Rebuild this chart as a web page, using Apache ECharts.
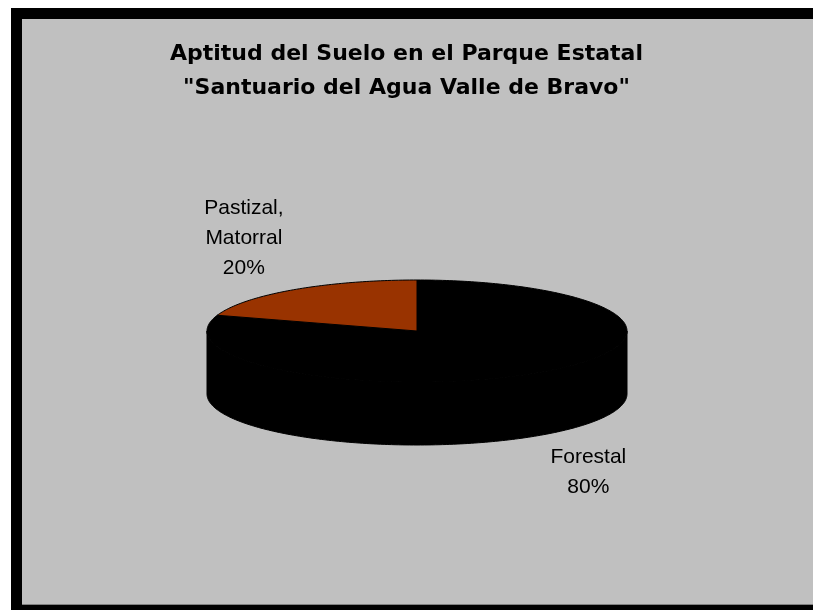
<!DOCTYPE html>
<html>
<head>
<meta charset="utf-8">
<script src="https://cdn.jsdelivr.net/npm/echarts@6/dist/echarts.min.js"></script>
<style>html,body{margin:0;padding:0;background:#fff}#c{width:813px;height:610px}</style>
</head>
<body>
<div id="c"></div>
<script>
// ---- data ----
const titleLines = ['Aptitud del Suelo en el Parque Estatal', '"Santuario del Agua Valle de Bravo"'];
const categories = ['Forestal', 'Pastizal, Matorral'];
const values = [80, 20];
const sliceColors = ['#000000', '#993300'];

// ---- layout / style ----
const CX = 417, CY = 331, RX = 210, RY = 51, DEPTH = 63;
const LRX = RX + 17, LRY = RY + 8;
const LABEL_FONT = '21px "Liberation Sans", Arial, sans-serif';
const LH = 30;

const total = values.reduce((a, b) => a + b, 0);
const ctx = document.createElement('canvas').getContext('2d');
ctx.font = LABEL_FONT;

function pt(deg, dy) {
  const r = deg * Math.PI / 180;
  return [CX + RX * Math.sin(r), CY - RY * Math.cos(r) + (dy || 0)];
}
function arc(a0, a1, dy) {
  const pts = [];
  const n = Math.max(2, Math.ceil(Math.abs(a1 - a0) / 1));
  for (let k = 0; k <= n; k++) pts.push(pt(a0 + (a1 - a0) * k / n, dy));
  return pts;
}

function renderItem(params, api) {
  const i = params.dataIndex;
  let before = 0;
  for (let k = 0; k < i; k++) before += values[k];
  const start = before / total * 360;
  const end = (before + values[i]) / total * 360;
  const children = [];
  // visible front side wall
  const s = Math.max(start, 90), e = Math.min(end, 270);
  if (s < e) {
    const pts = arc(s, e, 0).concat(arc(e, s, DEPTH));
    children.push({
      type: 'polygon', z2: 1,
      shape: { points: pts },
      style: { fill: sliceColors[i], stroke: '#000', lineWidth: 1 }
    });
  }
  // top face
  children.push({
    type: 'polygon', z2: 10,
    shape: { points: [[CX, CY]].concat(arc(start, end, 0)) },
    style: { fill: sliceColors[i], stroke: '#000', lineWidth: 1 }
  });
  // label
  const mid = (start + end) / 2 * Math.PI / 180;
  const sn = Math.sin(mid), cs = Math.cos(mid);
  const ax = CX + LRX * sn;
  const ay = CY - LRY * cs + (cs < 0 ? DEPTH : 0);
  const pct = Math.round(values[i] / total * 100) + '%';
  const lines = categories[i].split(', ').map((t, j, arr) => j < arr.length - 1 ? t + ',' : t).concat([pct]);
  const w = Math.max.apply(null, lines.map(l => ctx.measureText(l).width));
  const h = lines.length * LH;
  children.push({
    type: 'text', z2: 20,
    style: {
      text: lines.join('\n'),
      x: sn < 0 ? ax - w / 2 : ax + w / 2,
      y: cs > 0 ? ay - h / 2 : ay + h / 2,
      align: 'center', verticalAlign: 'middle',
      font: LABEL_FONT, lineHeight: LH, fill: '#000'
    }
  });
  return { type: 'group', children: children };
}

const chart = echarts.init(document.getElementById('c'), null, { renderer: 'canvas' });
chart.setOption({
  backgroundColor: '#ffffff',
  animation: false,
  graphic: [
    { type: 'rect', z: -10, shape: { x: 11, y: 8, width: 802, height: 602 }, style: { fill: '#000' } },
    { type: 'rect', z: -9, shape: { x: 22, y: 19, width: 791, height: 586 }, style: { fill: '#C0C0C0' } },
    { type: 'rect', z: -8, shape: { x: 22, y: 604, width: 791, height: 1 }, style: { fill: '#808080' } }
  ],
  title: {
    text: titleLines.join('\n'),
    left: 'center',
    top: 32,
    padding: [5, 5, 5, 30],
    textStyle: {
      fontFamily: '"DejaVu Sans", sans-serif',
      fontWeight: 'bold',
      fontSize: 22,
      lineHeight: 34,
      color: '#000'
    }
  },
  series: [{
    type: 'custom',
    coordinateSystem: 'none',
    renderItem: renderItem,
    data: values
  }]
});
</script>
</body>
</html>
